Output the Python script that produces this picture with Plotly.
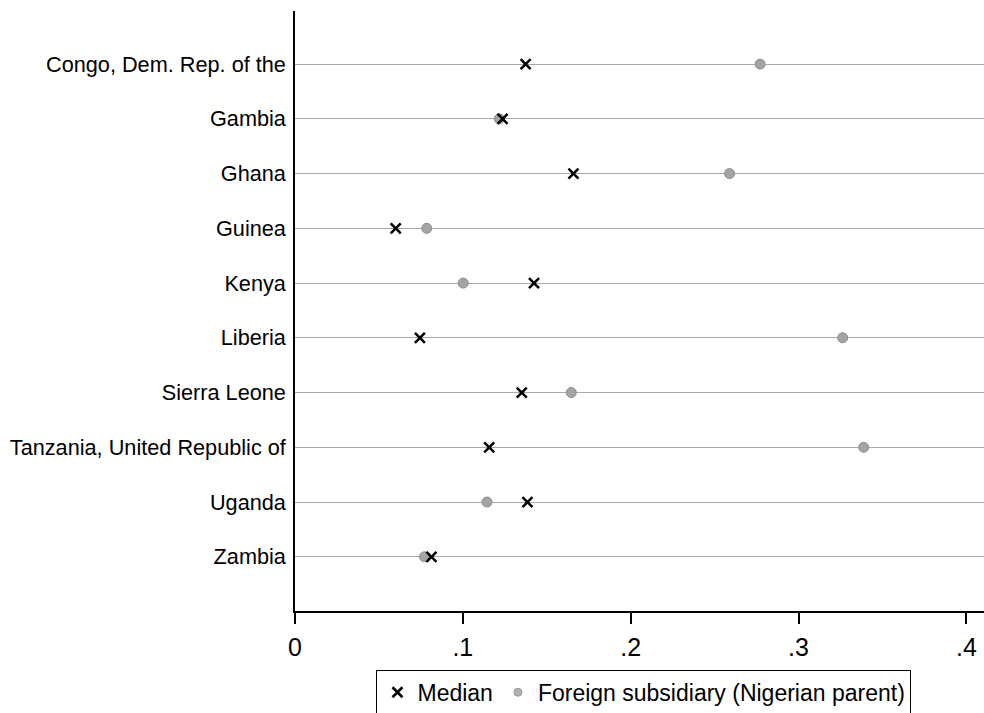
import plotly.graph_objects as go

countries = [
    "Congo, Dem. Rep. of the", "Gambia", "Ghana", "Guinea", "Kenya",
    "Liberia", "Sierra Leone", "Tanzania, United Republic of", "Uganda", "Zambia",
]
median = [0.1374, 0.1237, 0.1659, 0.0600, 0.1424, 0.0744, 0.1351, 0.1157, 0.1385, 0.0813]
foreign_sub = [0.2771, 0.1217, 0.2589, 0.0785, 0.1002, 0.3263, 0.1646, 0.3388, 0.1144, 0.0771]
x_ticks = [0, 0.1, 0.2, 0.3, 0.4]
x_tick_labels = ["0", ".1", ".2", ".3", ".4"]

rows = list(range(1, len(countries) + 1))

fig = go.Figure()
fig.add_trace(go.Scatter(
    x=foreign_sub, y=rows, mode="markers", name="Foreign subsidiary (Nigerian parent)",
    marker=dict(symbol="circle", size=10, color="#a4a4a4",
                line=dict(color="#8e8e8e", width=1)),
    showlegend=False,
))
fig.add_trace(go.Scatter(
    x=median, y=rows, mode="markers", name="Median",
    marker=dict(symbol="x-thin", size=10, color="black",
                line=dict(color="black", width=2.5)),
))
# legend entry for the foreign-subsidiary series, listed after Median
fig.add_trace(go.Scatter(
    x=[None], y=[None], mode="markers", name="Foreign subsidiary (Nigerian parent)",
    marker=dict(symbol="circle", size=8, color="#b0b0b0",
                line=dict(color="#9a9a9a", width=1)),
))

fig.update_layout(
    width=984, height=713,
    margin=dict(l=295, r=0, t=11, b=102, autoexpand=False),
    paper_bgcolor="white", plot_bgcolor="white",
    font=dict(family="Liberation Sans, Arial, sans-serif", color="black"),
    xaxis=dict(
        range=[0, 0.4105], tickvals=x_ticks, ticktext=x_tick_labels,
        showgrid=False, zeroline=False,
        showline=True, linecolor="black", linewidth=1.5,
        ticks="outside", ticklen=11, tickwidth=1.5, tickcolor="black",
        tickfont=dict(size=25), ticklabelstandoff=2,
    ),
    yaxis=dict(
        range=[10.99, 0.03], tickvals=rows, ticktext=countries,
        showgrid=True, gridcolor="#a8a8a8", gridwidth=1.3,
        zeroline=False, showline=True, linecolor="black", linewidth=1.5,
        ticks="", tickfont=dict(size=21.7), ticklabelstandoff=3,
    ),
    legend=dict(
        orientation="h", x=0.5065, xanchor="center", y=-0.098, yanchor="top",
        bordercolor="black", borderwidth=1, bgcolor="white",
        font=dict(size=23), itemwidth=30,
    ),
)

fig.write_html("out.html")
